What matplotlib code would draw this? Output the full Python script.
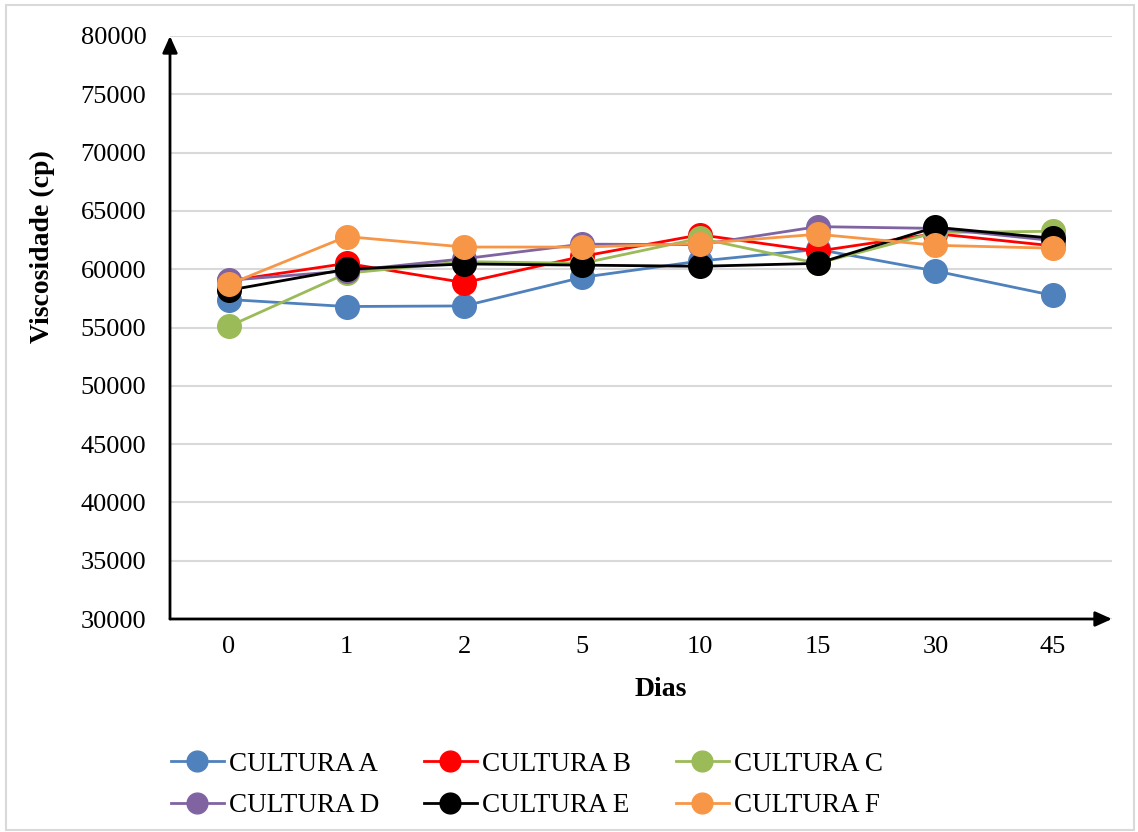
import matplotlib
matplotlib.use("Agg")
import matplotlib.pyplot as plt
from matplotlib.patches import Rectangle

plt.rcParams['font.family'] = ['Liberation Serif', 'DejaVu Serif']

dias = ["0", "1", "2", "5", "10", "15", "30", "45"]
cultura_a = [57400, 56800, 56850, 59300, 60700, 61700, 59850, 57750]
cultura_b = [59000, 60500, 58850, 61100, 62950, 61550, 63050, 62000]
cultura_c = [55100, 59650, 60650, 60500, 62650, 60500, 63150, 63250]
cultura_d = [59050, 59850, 60900, 62150, 62100, 63650, 63500, 62450]
cultura_e = [58200, 60000, 60450, 60350, 60250, 60500, 63600, 62650]
cultura_f = [58700, 62800, 61900, 61900, 62200, 63000, 62050, 61800]

series = [
    ("CULTURA A", cultura_a, "#4F81BD"),
    ("CULTURA B", cultura_b, "#FF0000"),
    ("CULTURA C", cultura_c, "#9BBB59"),
    ("CULTURA D", cultura_d, "#8064A2"),
    ("CULTURA E", cultura_e, "#000000"),
    ("CULTURA F", cultura_f, "#F79646"),
]

fig = plt.figure(figsize=(11.38, 8.32), dpi=100)
fig.patch.set_facecolor("white")
fig.add_artist(Rectangle((6 / 1138, 2 / 832), 1128 / 1138, 825 / 832,
                         transform=fig.transFigure, fill=False,
                         edgecolor="#d9d9d9", linewidth=1.5))

ax = fig.add_axes([170 / 1138, 1 - 619 / 832, 942 / 1138, 583 / 832])
x = list(range(len(dias)))
handles = []
for name, vals, col in series:
    h, = ax.plot(x, vals, color=col, linewidth=2, marker="o", markersize=17,
                 label=name, zorder=3)
    handles.append(h)

ax.set_xlim(-0.5, len(dias) - 0.5)
ax.set_ylim(30000, 80000)
ax.set_yticks(range(30000, 80001, 5000))
ax.set_xticks(x)
ax.set_xticklabels(dias)
ax.tick_params(axis="both", length=0, labelsize=19)
ax.tick_params(axis="x", pad=12)
ax.tick_params(axis="y", pad=17)
ax.grid(axis="y", color="#d9d9d9", linewidth=1.5, zorder=0)
ax.set_axisbelow(True)
for s in ax.spines.values():
    s.set_visible(False)

# axis lines with arrowheads
ax.annotate("", xy=(0, 1.0), xytext=(0, 0), xycoords="axes fraction",
            arrowprops=dict(arrowstyle="-|>,head_length=1.0,head_width=0.45",
                            color="black", lw=2, shrinkA=0, shrinkB=0),
            annotation_clip=False, zorder=5)
ax.annotate("", xy=(1.0, 0), xytext=(0, 0), xycoords="axes fraction",
            arrowprops=dict(arrowstyle="-|>,head_length=1.0,head_width=0.45",
                            color="black", lw=2, shrinkA=0, shrinkB=0),
            annotation_clip=False, zorder=5)

fig.text(42 / 1138, 1 - 247 / 832, "Viscosidade (cp)", rotation=90,
         ha="center", va="center", fontsize=20, fontweight="bold")
fig.text(661 / 1138, 1 - 690 / 832, "Dias", ha="center", va="center",
         fontsize=20, fontweight="bold")

order = [0, 3, 1, 4, 2, 5]
leg = fig.legend([handles[i] for i in order], [series[i][0] for i in order],
                 ncol=3, loc="center", bbox_to_anchor=(527 / 1138, 1 - 785 / 832),
                 frameon=False, fontsize=19.5, markerscale=0.88,
                 handlelength=1.95, handletextpad=0.2, columnspacing=1.65,
                 labelspacing=0.6)

fig.savefig("out.png", dpi=100, facecolor="white")
